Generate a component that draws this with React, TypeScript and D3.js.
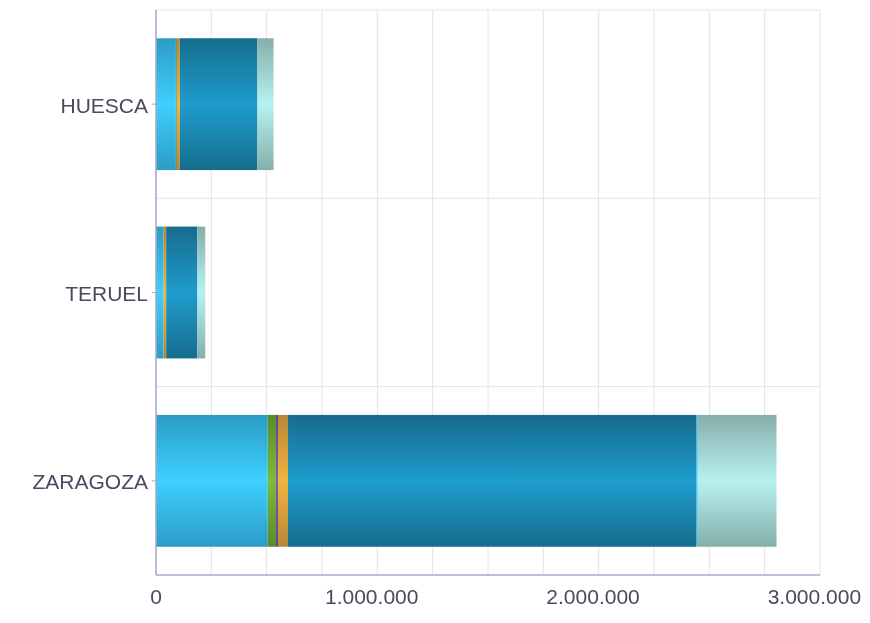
import React from "react";
import * as d3 from "d3";

const categories = ["HUESCA", "TERUEL", "ZARAGOZA"];
const seriesNames = ["s1", "s2", "s3", "s4", "s5", "s6", "s7"];
const s1 = [90000, 33000, 505000];
const s2 = [4000, 1500, 37500];
const s3 = [1000, 500, 9000];
const s4 = [13000, 11000, 45000];
const s5 = [350000, 141000, 1844000];
const s6 = [1000, 500, 7000];
const s7 = [72000, 35000, 356000];
const seriesValues = [s1, s2, s3, s4, s5, s6, s7];
const tickValues = [0, 1000000, 2000000, 3000000];
const tickLabels = ["0", "1.000.000", "2.000.000", "3.000.000"];

// [edge, center]
const colors: [string, string][] = [
  ["#2c9cc6", "#3dd0ff"],
  ["#5a8a2a", "#7cbc3a"],
  ["#5a3f8c", "#7a55b0"],
  ["#b5873a", "#f2b43e"],
  ["#166c8c", "#1f9ccd"],
  ["#2aa8d8", "#36c8f5"],
  ["#86aeaa", "#b6f2f0"],
];

const W = 870;
const H = 623;
const left = 156;
const right = 820;
const top = 10;
const bottom = 575;

export default function App() {
  const x = d3.scaleLinear().domain([0, 3000000]).range([left, right]);
  const y = d3
    .scaleBand<string>()
    .domain(categories)
    .range([top, bottom])
    .paddingInner(0.3)
    .paddingOuter(0.15);
  const bandY = d3.scaleBand<string>().domain(categories).range([top, bottom]);

  const table = categories.map((c, i) => {
    const row: any = { cat: c };
    seriesNames.forEach((s, j) => (row[s] = seriesValues[j][i]));
    return row;
  });
  const stacked = d3.stack<any>().keys(seriesNames)(table);
  const gridTicks = d3.range(0, 3000001, 250000);

  return (
    <div style={{ position: "fixed", left: 0, top: 0 }}>
      <svg width={W} height={H} style={{ display: "block" }} fontFamily="'Liberation Sans', Arial, sans-serif">
        <defs>
          {colors.map((c, i) => (
            <linearGradient key={i} id={`g${i}`} x1="0" y1="0" x2="0" y2="1">
              <stop offset="0" stopColor={c[0]} />
              <stop offset="0.5" stopColor={c[1]} />
              <stop offset="1" stopColor={c[0]} />
            </linearGradient>
          ))}
        </defs>
        {gridTicks.map((t) => (
          <line key={t} x1={x(t)} x2={x(t)} y1={top} y2={bottom} stroke="#e2e2ee" strokeWidth={1} />
        ))}
        {categories.map((c) => (
          <line key={c} x1={left} x2={right} y1={bandY(c)!} y2={bandY(c)!} stroke="#e2e2ee" strokeWidth={1} />
        ))}
        {stacked.map((layer, j) => (
          <g key={j} fill={`url(#g${j})`}>
            {layer.map((d, i) => (
              <rect
                key={i}
                x={x(d[0])}
                width={Math.max(0, x(d[1]) - x(d[0]))}
                y={y(categories[i])!}
                height={y.bandwidth()}
              />
            ))}
          </g>
        ))}
        <line x1={left} x2={left} y1={top} y2={bottom} stroke="#a8a8cc" strokeWidth={1.5} />
        <line x1={left} x2={right} y1={bottom} y2={bottom} stroke="#a8a8cc" strokeWidth={1.5} />
        {categories.map((c) => (
          <g key={c}>
            <line x1={left - 4} x2={left} y1={bandY(c)! + bandY.bandwidth() / 2} y2={bandY(c)! + bandY.bandwidth() / 2} stroke="#a8a8cc" />
            <text
              x={left - 8}
              y={bandY(c)! + bandY.bandwidth() / 2 + 1}
              textAnchor="end"
              dominantBaseline="central"
              fontSize={21}
              fill="#4a4a5e"
            >
              {c}
            </text>
          </g>
        ))}
        {tickValues.map((t, i) => (
          <text
            key={t}
            x={x(t)}
            dx={-(tickLabels[i].length - 1) * 0.7}
            y={604}
            textAnchor="middle"
            fontSize={21}
            fill="#4a4a5e"
          >
            {tickLabels[i]}
          </text>
        ))}
      </svg>
    </div>
  );
}
